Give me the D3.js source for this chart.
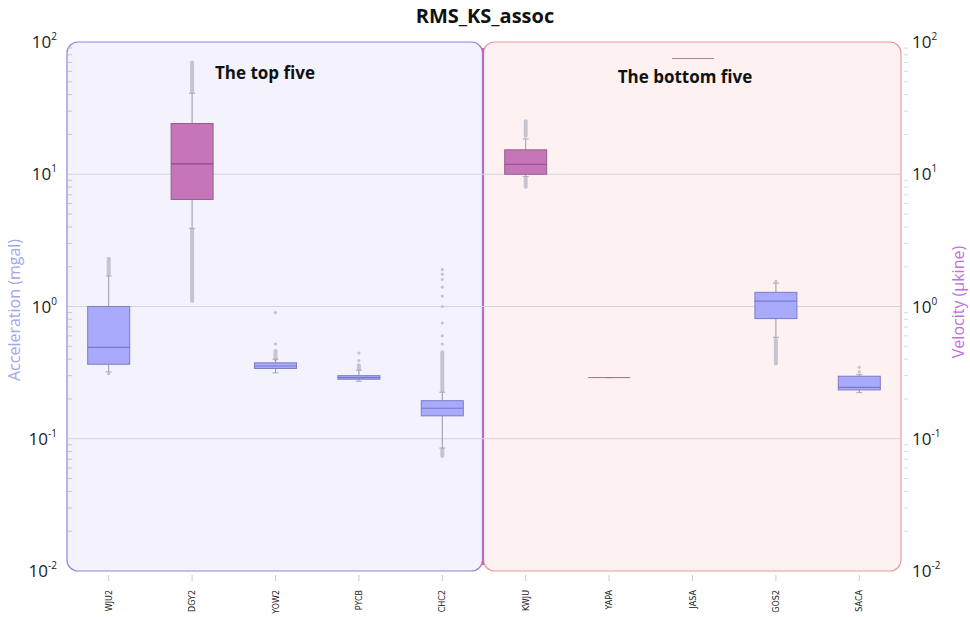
<!DOCTYPE html>
<html lang="en">
<head>
<meta charset="UTF-8">
<title>RMS_KS_assoc</title>
<script src="https://d3js.org/d3.v7.min.js"></script>
<style>
    body, html {
        margin: 0;
        padding: 0;
        background: #fff;
        font-family: "Open Sans", Arial, sans-serif;
    }
</style>
</head>
<body>
<div id="chart"></div>
<script>
// data
const stations = ["WJU2", "DGY2", "YOW2", "PYCB", "CHC2", "KWJU", "YAPA", "JASA", "GOS2", "SACA"];
const kinds    = ["acc", "vel", "acc", "acc", "acc", "vel", "acc", "acc", "acc", "acc"];
const q1          = [0.366, 6.45, 0.340, 0.282, 0.149, 10.0, 0.29, null, 0.81, 0.234];
const medians     = [0.49, 12.0, 0.355, 0.290, 0.170, 11.9, 0.29, null, 1.10, 0.245];
const q3          = [1.0, 24.2, 0.375, 0.300, 0.194, 15.3, 0.29, null, 1.28, 0.297];
const whiskerLow  = [0.32, 3.9, 0.315, 0.272, 0.085, 9.6, 0.29, null, 0.585, 0.223];
const whiskerHigh = [1.7, 41, 0.40, 0.33, 0.225, 18.5, 0.29, null, 1.5, 0.305];
// dense runs of outliers [low, high] and single outliers
const outlierRuns = [
    [[1.75, 2.3]],
    [[42, 70], [1.1, 3.8]],
    [[0.40, 0.46]],
    [[0.34, 0.36]],
    [[0.23, 0.45], [0.074, 0.083]],
    [[19.5, 25.2], [8.05, 9.3]],
    [], [],
    [[0.37, 0.56]],
    []
];
const outlierPoints = [
    [0.31],
    [],
    [0.52, 0.9],
    [0.39, 0.445],
    [0.52, 0.6, 0.75, 1.0, 1.2, 1.4, 1.6, 1.75, 1.9],
    [],
    [], [],
    [1.55],
    [0.32, 0.347]
];
const tickValues = [0.01, 0.1, 1, 10, 100];
const tickExponents = ["-2", "-1", "0", "1", "2"];

const W = 970, H = 617;
const plotTop = 42, plotBottom = 571, plotLeft = 67, plotRight = 901, mid = 482.5;

const svg = d3.select("#chart").append("svg")
    .attr("width", W)
    .attr("height", H);

const x = d3.scaleBand().domain(stations).range([plotLeft, plotRight]).padding(0);
const y = d3.scaleLog().domain([0.01, 100]).range([plotBottom, plotTop]);

// panels
svg.append("rect")
    .attr("x", plotLeft).attr("y", plotTop)
    .attr("width", mid - plotLeft).attr("height", plotBottom - plotTop)
    .attr("rx", 11)
    .attr("fill", "#f3f2fd")
    .attr("stroke", "#8c88dc")
    .attr("stroke-width", 1.2);
svg.append("rect")
    .attr("x", mid + 1).attr("y", plotTop)
    .attr("width", plotRight - mid - 1).attr("height", plotBottom - plotTop)
    .attr("rx", 11)
    .attr("fill", "#fdf2f1")
    .attr("stroke", "#e89aa2")
    .attr("stroke-width", 1.2);
svg.append("line")
    .attr("x1", mid + 0.5).attr("x2", mid + 0.5)
    .attr("y1", plotTop + 6).attr("y2", plotBottom - 6)
    .attr("stroke", "#b46cc4")
    .attr("stroke-width", 2);

// grid lines
svg.append("g").selectAll("line")
    .data([0.1, 1, 10])
    .join("line")
    .attr("x1", plotLeft + 1).attr("x2", plotRight - 1)
    .attr("y1", d => y(d)).attr("y2", d => y(d))
    .attr("stroke", "#d6d2e2")
    .attr("stroke-width", 1);

// minor ticks
const minors = [];
[0.01, 0.1, 1, 10].forEach(d => { for (let k = 2; k < 10; k++) minors.push(d * k); });
svg.append("g").selectAll("line")
    .data(minors)
    .join("line")
    .attr("x1", plotLeft + 1).attr("x2", plotLeft + 5)
    .attr("y1", d => y(d)).attr("y2", d => y(d))
    .attr("stroke", "#c8c8d4");
svg.append("g").selectAll("line")
    .data(minors)
    .join("line")
    .attr("x1", plotRight + 3).attr("x2", plotRight + 7)
    .attr("y1", d => y(d)).attr("y2", d => y(d))
    .attr("stroke", "#d8d8de");

// tick labels both sides
function tickLabels(xPos, anchor) {
    const t = svg.append("g").selectAll("text")
        .data(tickValues)
        .join("text")
        .attr("x", xPos)
        .attr("y", d => y(d) + 6)
        .attr("text-anchor", anchor)
        .attr("font-size", 17)
        .attr("fill", "#222");
    t.append("tspan").text("10");
    t.append("tspan")
        .attr("font-size", 10)
        .attr("dy", -8)
        .text((d, i) => tickExponents[i]);
}
tickLabels(57, "end");
tickLabels(912, "start");

// axis titles
svg.append("text")
    .attr("transform", `translate(20,310) rotate(-90)`)
    .attr("text-anchor", "middle")
    .attr("font-size", 16)
    .attr("fill", "#a4a4f0")
    .text("Acceleration (mgal)");
svg.append("text")
    .attr("transform", `translate(964,302) rotate(-90)`)
    .attr("text-anchor", "middle")
    .attr("font-size", 16)
    .attr("fill", "#c070e0")
    .text("Velocity (µkine)");

// title and panel captions
svg.append("text")
    .attr("x", 485).attr("y", 23)
    .attr("text-anchor", "middle")
    .attr("font-size", 20).attr("font-weight", "bold")
    .attr("fill", "#111")
    .text("RMS_KS_assoc");
svg.append("text")
    .attr("x", 265).attr("y", 79)
    .attr("text-anchor", "middle")
    .attr("font-size", 17).attr("font-weight", "bold")
    .attr("fill", "#111")
    .text("The top five");
svg.append("text")
    .attr("x", 685).attr("y", 83)
    .attr("text-anchor", "middle")
    .attr("font-size", 17).attr("font-weight", "bold")
    .attr("fill", "#111")
    .text("The bottom five");
svg.append("line")
    .attr("x1", 672).attr("x2", 714)
    .attr("y1", 58.5).attr("y2", 58.5)
    .attr("stroke", "#a08c8c");

// x axis ticks and labels
svg.append("g").selectAll("line")
    .data(stations)
    .join("line")
    .attr("x1", d => x(d) + x.bandwidth() / 2)
    .attr("x2", d => x(d) + x.bandwidth() / 2)
    .attr("y1", plotBottom + 4).attr("y2", plotBottom + 10)
    .attr("stroke", "#ccc");
svg.append("g").selectAll("text")
    .data(stations)
    .join("text")
    .attr("transform", d => `translate(${x(d) + x.bandwidth() / 2 + 3},${plotBottom + 19}) rotate(-90)`)
    .attr("text-anchor", "end")
    .attr("font-family", "DejaVu Sans, sans-serif")
    .attr("font-size", 8)
    .attr("fill", "#222")
    .text(d => d);

// boxes
const boxW = 42;
const colors = {
    acc: { fill: "#aaaafc", stroke: "#7c7cc4", median: "#7a78c8" },
    vel: { fill: "#c676b8", stroke: "#93608e", median: "#8e4a88" }
};
const boxes = svg.append("g");
stations.forEach((s, i) => {
    if (q1[i] === null) return;
    const cx = x(s) + x.bandwidth() / 2;
    const c = colors[kinds[i]];
    const g = boxes.append("g");

    // outliers
    outlierRuns[i].forEach(r => {
        g.append("line")
            .attr("x1", cx).attr("x2", cx)
            .attr("y1", y(r[0])).attr("y2", y(r[1]))
            .attr("stroke", "#c6c4d2")
            .attr("stroke-width", 4)
            .attr("stroke-linecap", "round");
    });
    g.selectAll("circle")
        .data(outlierPoints[i])
        .join("circle")
        .attr("cx", cx).attr("cy", d => y(d))
        .attr("r", 1.6)
        .attr("fill", "#c4c2d0");

    // whiskers
    g.append("line")
        .attr("x1", cx).attr("x2", cx)
        .attr("y1", y(whiskerHigh[i])).attr("y2", y(q3[i]))
        .attr("stroke", "#9a98a8");
    g.append("line")
        .attr("x1", cx).attr("x2", cx)
        .attr("y1", y(q1[i])).attr("y2", y(whiskerLow[i]))
        .attr("stroke", "#9a98a8");
    [whiskerHigh[i], whiskerLow[i]].forEach(v => {
        g.append("line")
            .attr("x1", cx - 3).attr("x2", cx + 3)
            .attr("y1", y(v)).attr("y2", y(v))
            .attr("stroke", "#aaa8b8");
    });

    // box
    const h = y(q1[i]) - y(q3[i]);
    if (h < 1) {
        g.append("line")
            .attr("x1", cx - boxW / 2).attr("x2", cx + boxW / 2)
            .attr("y1", y(medians[i])).attr("y2", y(medians[i]))
            .attr("stroke", "#8a7a80");
    } else {
        g.append("rect")
            .attr("x", cx - boxW / 2).attr("y", y(q3[i]))
            .attr("width", boxW).attr("height", h)
            .attr("fill", c.fill)
            .attr("stroke", c.stroke);
        g.append("line")
            .attr("x1", cx - boxW / 2).attr("x2", cx + boxW / 2)
            .attr("y1", y(medians[i])).attr("y2", y(medians[i]))
            .attr("stroke", c.median)
            .attr("stroke-width", 1.2);
    }
});
</script>
</body>
</html>
